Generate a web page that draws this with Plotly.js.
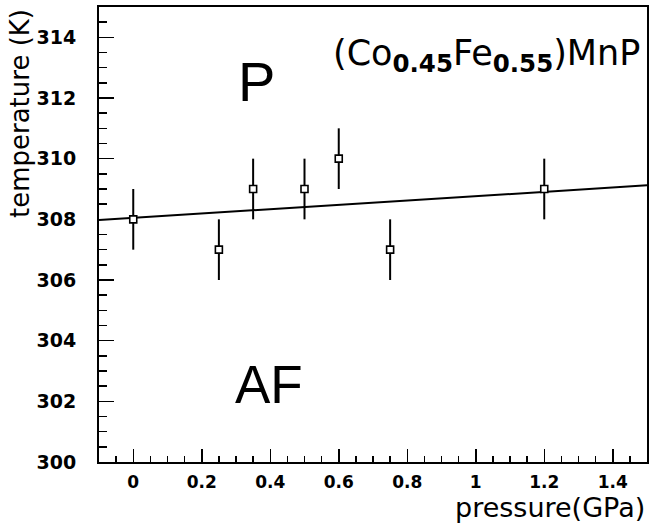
<!DOCTYPE html>
<html>
<head>
<meta charset="utf-8">
<script src="https://cdn.plot.ly/plotly-3.0.1.min.js"></script>
<style>html,body{margin:0;padding:0;background:#fff;}#chart{width:657px;height:523px;}</style>
</head>
<body>
<div id="chart"></div>
<script>
// Data
const pressure = [0, 0.25, 0.35, 0.5, 0.6, 0.75, 1.2];
const temperature = [308, 307, 309, 309, 310, 307, 309];
const temperatureError = [1, 1, 1, 1, 1, 1, 1];
const fitPressure = [-0.1, 1.5];
const fitTemperature = [307.98, 309.12];
const xTitle = 'pressure(GPa)';
const yTitle = 'temperature (K)';
const compound = '(Co<sub><b>0.45</b></sub>Fe<sub><b>0.55</b></sub>)MnP';
const phaseLabels = ['P', 'AF'];
const phaseX = [0.36, 0.395];
const phaseY = [312.55, 302.55];

const fitTrace = {
  x: fitPressure, y: fitTemperature, type: 'scatter', mode: 'lines',
  line: {color: '#000', width: 2}, hoverinfo: 'skip', showlegend: false
};
const pointTrace = {
  x: pressure, y: temperature, type: 'scatter', mode: 'markers',
  error_y: {type: 'data', array: temperatureError, visible: true, color: '#000', thickness: 2, width: 0},
  marker: {symbol: 'square', size: 7, color: '#fff', line: {color: '#000', width: 1.6}},
  showlegend: false
};

const layout = {
  width: 657, height: 523,
  margin: {l: 99, r: 10, t: 7, b: 61},
  paper_bgcolor: '#fff', plot_bgcolor: '#fff',
  font: {family: 'DejaVu Sans, Arial, sans-serif', color: '#000'},
  showlegend: false,
  xaxis: {
    range: [-0.1, 1.5], dtick: 0.2, tick0: 0, showgrid: false, zeroline: false,
    showline: true, linecolor: '#000', linewidth: 2, mirror: true,
    ticks: 'inside', ticklen: 13, tickwidth: 1.5, tickcolor: '#000',
    minor: {dtick: 0.05, ticklen: 6, tickwidth: 1.5, tickcolor: '#000', ticks: 'inside'},
    tickfont: {size: 17, family: 'DejaVu Sans, Arial, sans-serif', weight: 'bold'},
    ticklabelstandoff: 4
  },
  yaxis: {
    range: [300, 315], dtick: 2, tick0: 300, showgrid: false, zeroline: false,
    showline: true, linecolor: '#000', linewidth: 2, mirror: true,
    ticks: 'inside', ticklen: 15, tickwidth: 1.5, tickcolor: '#000',
    minor: {dtick: 0.5, ticklen: 8, tickwidth: 1.5, tickcolor: '#000', ticks: 'inside'},
    tickfont: {size: 19, family: 'DejaVu Sans, Arial, sans-serif', weight: 'bold'},
    ticklabelstandoff: 17
  },
  annotations: [
    {text: yTitle, xref: 'paper', yref: 'paper', x: -0.145, y: 1.0, xanchor: 'center', yanchor: 'top',
     textangle: -90, showarrow: false, font: {size: 26}},
    {text: xTitle, xref: 'paper', yref: 'paper', x: 1.0, y: -0.1, xanchor: 'right', yanchor: 'middle',
     showarrow: false, font: {size: 27}},
    {text: compound, xref: 'x', yref: 'y', x: 1.485, y: 313.4, xanchor: 'right', yanchor: 'middle',
     showarrow: false, font: {size: 35}},
    {text: phaseLabels[0], xref: 'x', yref: 'y', x: phaseX[0], y: phaseY[0], xanchor: 'center', yanchor: 'middle',
     showarrow: false, font: {size: 56, family: 'Liberation Sans, Arial, sans-serif'}},
    {text: phaseLabels[1], xref: 'x', yref: 'y', x: phaseX[1], y: phaseY[1], xanchor: 'center', yanchor: 'middle',
     showarrow: false, font: {size: 53, family: 'Liberation Sans, Arial, sans-serif'}}
  ]
};

Plotly.newPlot('chart', [fitTrace, pointTrace], layout, {displayModeBar: false, staticPlot: true});
</script>
</body>
</html>
